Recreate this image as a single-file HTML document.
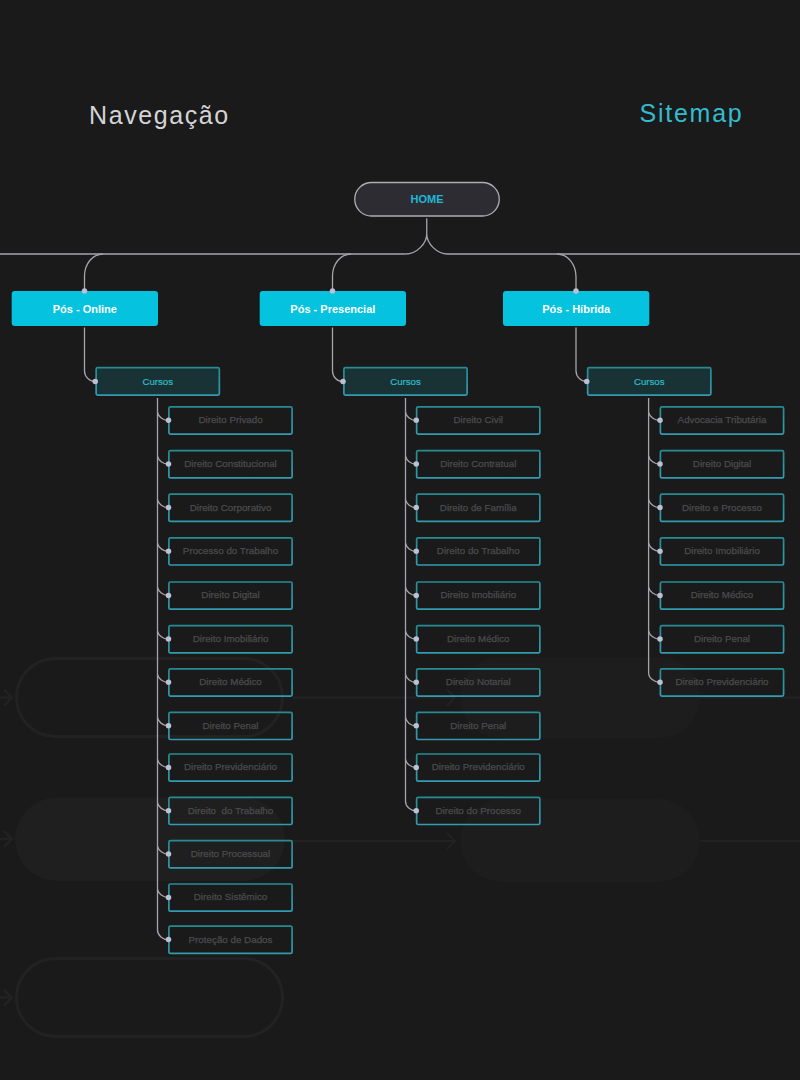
<!DOCTYPE html>
<html><head><meta charset="utf-8">
<style>
*{margin:0;padding:0}
html,body{width:800px;height:1080px;overflow:hidden;background:#1a1a1a}
body{position:relative;font-family:"Liberation Sans",sans-serif}
svg{position:absolute;left:0;top:0;display:block}
text{font-family:"Liberation Sans",sans-serif}
</style></head><body>
<svg width="800" height="1080" viewBox="0 0 800 1080">
<defs>
<linearGradient id="gb" x1="0" y1="0" x2="0" y2="1">
<stop offset="0" stop-color="#278b93"/><stop offset="1" stop-color="#329bb0"/>
</linearGradient>
</defs>
<g>
<rect x="16.5" y="658.5" width="266" height="78" rx="39" fill="none" stroke="#222222" stroke-width="3"/>
<rect x="460" y="657" width="240" height="81" rx="40.5" fill="#1d1d1d"/>
<path d="M0 697.5 H12 M4 689.5 L12 697.5 L4 705.5" fill="none" stroke="#222222" stroke-width="2.5"/>
<path d="M293 697.5 H455 M447 689.5 L455 697.5 L447 705.5" fill="none" stroke="#222222" stroke-width="2"/>
<path d="M700 697.5 H800" fill="none" stroke="#222222" stroke-width="2"/>
<rect x="15" y="797.5" width="270" height="83.5" rx="41.75" fill="#1f1f1f"/>
<rect x="460" y="799" width="240" height="83" rx="41.5" fill="#1d1d1d"/>
<path d="M0 839 H12 M4 831 L12 839 L4 847" fill="none" stroke="#222222" stroke-width="2.5"/>
<path d="M293 841 H455 M447 833 L455 841 L447 849" fill="none" stroke="#222222" stroke-width="2"/>
<path d="M700 841 H800" fill="none" stroke="#222222" stroke-width="2"/>
<rect x="16.5" y="958.5" width="266" height="78" rx="39" fill="none" stroke="#222222" stroke-width="3"/>
<path d="M0 997.5 H12 M4 989.5 L12 997.5 L4 1005.5" fill="none" stroke="#222222" stroke-width="2.5"/>
</g>
<text x="89" y="123.5" font-size="25" letter-spacing="1.6" fill="#d4d4d6">Navegação</text>
<text x="639.5" y="122" font-size="25" letter-spacing="1.75" fill="#33bccf">Sitemap</text>
<rect x="354.75" y="182.5" width="144.5" height="33.5" rx="16.75" fill="#2d2c32" stroke="#aeadb4" stroke-width="1.3"/>
<text x="427" y="203.2" font-size="11" font-weight="bold" text-anchor="middle" fill="#1fb8d8">HOME</text>
<path d="M0 254 H405.5 M448 254 H800" fill="none" stroke="#a6a4ac" stroke-width="1.7"/>
<path d="M405.5 254 C417.2 254, 426.75 243, 426.75 234 V218.2 M426.75 234 C426.75 243, 436.3 254, 448 254" fill="none" stroke="#a6a4ac" stroke-width="1.3"/>
<path d="M103.0 254 C92.5 254, 84.5 264, 84.5 276 V291" fill="none" stroke="#a6a4ac" stroke-width="1.3"/>
<rect x="11.7" y="291" width="146.3" height="35" rx="3" fill="#05c2df"/>
<text x="84.85000000000001" y="312.6" font-size="11" font-weight="bold" text-anchor="middle" fill="#ffffff">Pós - Online</text>
<circle cx="84.5" cy="291" r="2.75" fill="#bdbfd2"/>
<path d="M84.5 327.5 V370.75 A10.75 10.75 0 0 0 95.25 381.5" fill="none" stroke="#a6a4ac" stroke-width="1.3"/>
<rect x="96.15" y="367.65" width="123.2" height="27.45" rx="1.5" fill="#183235" stroke="url(#gb)" stroke-width="1.7"/>
<text x="157.75" y="384.5" font-size="9.6" text-anchor="middle" fill="#2fbcc8" stroke="#2fbcc8" stroke-width="0.2">Cursos</text>
<circle cx="95.25" cy="381.5" r="2.75" fill="#bdbfd2"/>
<rect x="168.9" y="406.9" width="123.2" height="27.2" rx="1.5" fill="none" stroke="url(#gb)" stroke-width="1.7"/>
<text x="230.5" y="423.3" font-size="9.8" text-anchor="middle" fill="#4b4b4d" stroke="#4b4b4d" stroke-width="0.25">Direito Privado</text>
<rect x="168.9" y="450.7" width="123.2" height="27.2" rx="1.5" fill="none" stroke="url(#gb)" stroke-width="1.7"/>
<text x="230.5" y="467.1" font-size="9.8" text-anchor="middle" fill="#4b4b4d" stroke="#4b4b4d" stroke-width="0.25">Direito Constitucional</text>
<rect x="168.9" y="494.2" width="123.2" height="27.2" rx="1.5" fill="none" stroke="url(#gb)" stroke-width="1.7"/>
<text x="230.5" y="510.6" font-size="9.8" text-anchor="middle" fill="#4b4b4d" stroke="#4b4b4d" stroke-width="0.25">Direito Corporativo</text>
<rect x="168.9" y="537.8" width="123.2" height="27.2" rx="1.5" fill="none" stroke="url(#gb)" stroke-width="1.7"/>
<text x="230.5" y="554.1999999999999" font-size="9.8" text-anchor="middle" fill="#4b4b4d" stroke="#4b4b4d" stroke-width="0.25">Processo do Trabalho</text>
<rect x="168.9" y="582.0" width="123.2" height="27.2" rx="1.5" fill="none" stroke="url(#gb)" stroke-width="1.7"/>
<text x="230.5" y="598.4" font-size="9.8" text-anchor="middle" fill="#4b4b4d" stroke="#4b4b4d" stroke-width="0.25">Direito Digital</text>
<rect x="168.9" y="625.6999999999999" width="123.2" height="27.2" rx="1.5" fill="none" stroke="url(#gb)" stroke-width="1.7"/>
<text x="230.5" y="642.0999999999999" font-size="9.8" text-anchor="middle" fill="#4b4b4d" stroke="#4b4b4d" stroke-width="0.25">Direito Imobiliário</text>
<rect x="168.9" y="668.9" width="123.2" height="27.2" rx="1.5" fill="none" stroke="url(#gb)" stroke-width="1.7"/>
<text x="230.5" y="685.3" font-size="9.8" text-anchor="middle" fill="#4b4b4d" stroke="#4b4b4d" stroke-width="0.25">Direito Médico</text>
<rect x="168.9" y="712.3" width="123.2" height="27.2" rx="1.5" fill="none" stroke="url(#gb)" stroke-width="1.7"/>
<text x="230.5" y="728.6999999999999" font-size="9.8" text-anchor="middle" fill="#4b4b4d" stroke="#4b4b4d" stroke-width="0.25">Direito Penal</text>
<rect x="168.9" y="754.0" width="123.2" height="27.2" rx="1.5" fill="none" stroke="url(#gb)" stroke-width="1.7"/>
<text x="230.5" y="770.4" font-size="9.8" text-anchor="middle" fill="#4b4b4d" stroke="#4b4b4d" stroke-width="0.25">Direito Previdenciário</text>
<rect x="168.9" y="797.3" width="123.2" height="27.2" rx="1.5" fill="none" stroke="url(#gb)" stroke-width="1.7"/>
<text x="230.5" y="813.6999999999999" font-size="9.8" text-anchor="middle" fill="#4b4b4d" stroke="#4b4b4d" stroke-width="0.25">Direito&#160; do Trabalho</text>
<rect x="168.9" y="840.6999999999999" width="123.2" height="27.2" rx="1.5" fill="none" stroke="url(#gb)" stroke-width="1.7"/>
<text x="230.5" y="857.0999999999999" font-size="9.8" text-anchor="middle" fill="#4b4b4d" stroke="#4b4b4d" stroke-width="0.25">Direito Processual</text>
<rect x="168.9" y="884.0" width="123.2" height="27.2" rx="1.5" fill="none" stroke="url(#gb)" stroke-width="1.7"/>
<text x="230.5" y="900.4" font-size="9.8" text-anchor="middle" fill="#4b4b4d" stroke="#4b4b4d" stroke-width="0.25">Direito Sistêmico</text>
<rect x="168.9" y="926.1999999999999" width="123.2" height="27.2" rx="1.5" fill="none" stroke="url(#gb)" stroke-width="1.7"/>
<text x="230.5" y="942.5999999999999" font-size="9.8" text-anchor="middle" fill="#4b4b4d" stroke="#4b4b4d" stroke-width="0.25">Proteção de Dados</text>
<path d="M157.5 398 V930.0999999999999 C157.5 935.5999999999999 163 939.5999999999999 168 939.5999999999999" fill="none" stroke="#a6a4ac" stroke-width="1.3"/>
<path d="M157.5 412.3 C158.5 416.8 163 420.3 168 420.3" fill="none" stroke="#a6a4ac" stroke-width="1.3"/>
<path d="M157.5 456.1 C158.5 460.6 163 464.1 168 464.1" fill="none" stroke="#a6a4ac" stroke-width="1.3"/>
<path d="M157.5 499.6 C158.5 504.1 163 507.6 168 507.6" fill="none" stroke="#a6a4ac" stroke-width="1.3"/>
<path d="M157.5 543.1999999999999 C158.5 547.6999999999999 163 551.1999999999999 168 551.1999999999999" fill="none" stroke="#a6a4ac" stroke-width="1.3"/>
<path d="M157.5 587.4 C158.5 591.9 163 595.4 168 595.4" fill="none" stroke="#a6a4ac" stroke-width="1.3"/>
<path d="M157.5 631.0999999999999 C158.5 635.5999999999999 163 639.0999999999999 168 639.0999999999999" fill="none" stroke="#a6a4ac" stroke-width="1.3"/>
<path d="M157.5 674.3 C158.5 678.8 163 682.3 168 682.3" fill="none" stroke="#a6a4ac" stroke-width="1.3"/>
<path d="M157.5 717.6999999999999 C158.5 722.1999999999999 163 725.6999999999999 168 725.6999999999999" fill="none" stroke="#a6a4ac" stroke-width="1.3"/>
<path d="M157.5 759.4 C158.5 763.9 163 767.4 168 767.4" fill="none" stroke="#a6a4ac" stroke-width="1.3"/>
<path d="M157.5 802.6999999999999 C158.5 807.1999999999999 163 810.6999999999999 168 810.6999999999999" fill="none" stroke="#a6a4ac" stroke-width="1.3"/>
<path d="M157.5 846.0999999999999 C158.5 850.5999999999999 163 854.0999999999999 168 854.0999999999999" fill="none" stroke="#a6a4ac" stroke-width="1.3"/>
<path d="M157.5 889.4 C158.5 893.9 163 897.4 168 897.4" fill="none" stroke="#a6a4ac" stroke-width="1.3"/>
<circle cx="168.5" cy="420.3" r="2.75" fill="#bdbfd2"/>
<circle cx="168.5" cy="464.1" r="2.75" fill="#bdbfd2"/>
<circle cx="168.5" cy="507.6" r="2.75" fill="#bdbfd2"/>
<circle cx="168.5" cy="551.1999999999999" r="2.75" fill="#bdbfd2"/>
<circle cx="168.5" cy="595.4" r="2.75" fill="#bdbfd2"/>
<circle cx="168.5" cy="639.0999999999999" r="2.75" fill="#bdbfd2"/>
<circle cx="168.5" cy="682.3" r="2.75" fill="#bdbfd2"/>
<circle cx="168.5" cy="725.6999999999999" r="2.75" fill="#bdbfd2"/>
<circle cx="168.5" cy="767.4" r="2.75" fill="#bdbfd2"/>
<circle cx="168.5" cy="810.6999999999999" r="2.75" fill="#bdbfd2"/>
<circle cx="168.5" cy="854.0999999999999" r="2.75" fill="#bdbfd2"/>
<circle cx="168.5" cy="897.4" r="2.75" fill="#bdbfd2"/>
<circle cx="168.5" cy="939.5999999999999" r="2.75" fill="#bdbfd2"/>
<path d="M351.0 254 C340.5 254, 332.5 264, 332.5 276 V291" fill="none" stroke="#a6a4ac" stroke-width="1.3"/>
<rect x="259.7" y="291" width="146.3" height="35" rx="3" fill="#05c2df"/>
<text x="332.85" y="312.6" font-size="11" font-weight="bold" text-anchor="middle" fill="#ffffff">Pós - Presencial</text>
<circle cx="332.5" cy="291" r="2.75" fill="#bdbfd2"/>
<path d="M332.5 327.5 V371.0 A10.5 10.5 0 0 0 343 381.5" fill="none" stroke="#a6a4ac" stroke-width="1.3"/>
<rect x="343.9" y="367.65" width="123.2" height="27.45" rx="1.5" fill="#183235" stroke="url(#gb)" stroke-width="1.7"/>
<text x="405.5" y="384.5" font-size="9.6" text-anchor="middle" fill="#2fbcc8" stroke="#2fbcc8" stroke-width="0.2">Cursos</text>
<circle cx="343" cy="381.5" r="2.75" fill="#bdbfd2"/>
<rect x="416.65" y="406.9" width="123.2" height="27.2" rx="1.5" fill="none" stroke="url(#gb)" stroke-width="1.7"/>
<text x="478.25" y="423.3" font-size="9.8" text-anchor="middle" fill="#4b4b4d" stroke="#4b4b4d" stroke-width="0.25">Direito Civil</text>
<rect x="416.65" y="450.7" width="123.2" height="27.2" rx="1.5" fill="none" stroke="url(#gb)" stroke-width="1.7"/>
<text x="478.25" y="467.1" font-size="9.8" text-anchor="middle" fill="#4b4b4d" stroke="#4b4b4d" stroke-width="0.25">Direito Contratual</text>
<rect x="416.65" y="494.2" width="123.2" height="27.2" rx="1.5" fill="none" stroke="url(#gb)" stroke-width="1.7"/>
<text x="478.25" y="510.6" font-size="9.8" text-anchor="middle" fill="#4b4b4d" stroke="#4b4b4d" stroke-width="0.25">Direito de Família</text>
<rect x="416.65" y="537.8" width="123.2" height="27.2" rx="1.5" fill="none" stroke="url(#gb)" stroke-width="1.7"/>
<text x="478.25" y="554.1999999999999" font-size="9.8" text-anchor="middle" fill="#4b4b4d" stroke="#4b4b4d" stroke-width="0.25">Direito do Trabalho</text>
<rect x="416.65" y="582.0" width="123.2" height="27.2" rx="1.5" fill="none" stroke="url(#gb)" stroke-width="1.7"/>
<text x="478.25" y="598.4" font-size="9.8" text-anchor="middle" fill="#4b4b4d" stroke="#4b4b4d" stroke-width="0.25">Direito Imobiliário</text>
<rect x="416.65" y="625.6999999999999" width="123.2" height="27.2" rx="1.5" fill="none" stroke="url(#gb)" stroke-width="1.7"/>
<text x="478.25" y="642.0999999999999" font-size="9.8" text-anchor="middle" fill="#4b4b4d" stroke="#4b4b4d" stroke-width="0.25">Direito Médico</text>
<rect x="416.65" y="668.9" width="123.2" height="27.2" rx="1.5" fill="none" stroke="url(#gb)" stroke-width="1.7"/>
<text x="478.25" y="685.3" font-size="9.8" text-anchor="middle" fill="#4b4b4d" stroke="#4b4b4d" stroke-width="0.25">Direito Notarial</text>
<rect x="416.65" y="712.3" width="123.2" height="27.2" rx="1.5" fill="none" stroke="url(#gb)" stroke-width="1.7"/>
<text x="478.25" y="728.6999999999999" font-size="9.8" text-anchor="middle" fill="#4b4b4d" stroke="#4b4b4d" stroke-width="0.25">Direito Penal</text>
<rect x="416.65" y="754.0" width="123.2" height="27.2" rx="1.5" fill="none" stroke="url(#gb)" stroke-width="1.7"/>
<text x="478.25" y="770.4" font-size="9.8" text-anchor="middle" fill="#4b4b4d" stroke="#4b4b4d" stroke-width="0.25">Direito Previdenciário</text>
<rect x="416.65" y="797.3" width="123.2" height="27.2" rx="1.5" fill="none" stroke="url(#gb)" stroke-width="1.7"/>
<text x="478.25" y="813.6999999999999" font-size="9.8" text-anchor="middle" fill="#4b4b4d" stroke="#4b4b4d" stroke-width="0.25">Direito do Processo</text>
<path d="M405.5 398 V801.1999999999999 C405.5 806.6999999999999 410.75 810.6999999999999 415.75 810.6999999999999" fill="none" stroke="#a6a4ac" stroke-width="1.3"/>
<path d="M405.5 412.3 C406.5 416.8 410.75 420.3 415.75 420.3" fill="none" stroke="#a6a4ac" stroke-width="1.3"/>
<path d="M405.5 456.1 C406.5 460.6 410.75 464.1 415.75 464.1" fill="none" stroke="#a6a4ac" stroke-width="1.3"/>
<path d="M405.5 499.6 C406.5 504.1 410.75 507.6 415.75 507.6" fill="none" stroke="#a6a4ac" stroke-width="1.3"/>
<path d="M405.5 543.1999999999999 C406.5 547.6999999999999 410.75 551.1999999999999 415.75 551.1999999999999" fill="none" stroke="#a6a4ac" stroke-width="1.3"/>
<path d="M405.5 587.4 C406.5 591.9 410.75 595.4 415.75 595.4" fill="none" stroke="#a6a4ac" stroke-width="1.3"/>
<path d="M405.5 631.0999999999999 C406.5 635.5999999999999 410.75 639.0999999999999 415.75 639.0999999999999" fill="none" stroke="#a6a4ac" stroke-width="1.3"/>
<path d="M405.5 674.3 C406.5 678.8 410.75 682.3 415.75 682.3" fill="none" stroke="#a6a4ac" stroke-width="1.3"/>
<path d="M405.5 717.6999999999999 C406.5 722.1999999999999 410.75 725.6999999999999 415.75 725.6999999999999" fill="none" stroke="#a6a4ac" stroke-width="1.3"/>
<path d="M405.5 759.4 C406.5 763.9 410.75 767.4 415.75 767.4" fill="none" stroke="#a6a4ac" stroke-width="1.3"/>
<circle cx="416.25" cy="420.3" r="2.75" fill="#bdbfd2"/>
<circle cx="416.25" cy="464.1" r="2.75" fill="#bdbfd2"/>
<circle cx="416.25" cy="507.6" r="2.75" fill="#bdbfd2"/>
<circle cx="416.25" cy="551.1999999999999" r="2.75" fill="#bdbfd2"/>
<circle cx="416.25" cy="595.4" r="2.75" fill="#bdbfd2"/>
<circle cx="416.25" cy="639.0999999999999" r="2.75" fill="#bdbfd2"/>
<circle cx="416.25" cy="682.3" r="2.75" fill="#bdbfd2"/>
<circle cx="416.25" cy="725.6999999999999" r="2.75" fill="#bdbfd2"/>
<circle cx="416.25" cy="767.4" r="2.75" fill="#bdbfd2"/>
<circle cx="416.25" cy="810.6999999999999" r="2.75" fill="#bdbfd2"/>
<path d="M557 254 C567.5 254, 576 264, 576 277 V291" fill="none" stroke="#a6a4ac" stroke-width="1.3"/>
<rect x="503" y="291" width="146.3" height="35" rx="3" fill="#05c2df"/>
<text x="576.15" y="312.6" font-size="11" font-weight="bold" text-anchor="middle" fill="#ffffff">Pós - Híbrida</text>
<circle cx="576" cy="291" r="2.75" fill="#bdbfd2"/>
<path d="M576 327.5 V370.75 A10.75 10.75 0 0 0 586.75 381.5" fill="none" stroke="#a6a4ac" stroke-width="1.3"/>
<rect x="587.65" y="367.65" width="123.2" height="27.45" rx="1.5" fill="#183235" stroke="url(#gb)" stroke-width="1.7"/>
<text x="649.25" y="384.5" font-size="9.6" text-anchor="middle" fill="#2fbcc8" stroke="#2fbcc8" stroke-width="0.2">Cursos</text>
<circle cx="586.75" cy="381.5" r="2.75" fill="#bdbfd2"/>
<rect x="660.4" y="406.9" width="123.2" height="27.2" rx="1.5" fill="none" stroke="url(#gb)" stroke-width="1.7"/>
<text x="722.0" y="423.3" font-size="9.8" text-anchor="middle" fill="#4b4b4d" stroke="#4b4b4d" stroke-width="0.25">Advocacia Tributária</text>
<rect x="660.4" y="450.7" width="123.2" height="27.2" rx="1.5" fill="none" stroke="url(#gb)" stroke-width="1.7"/>
<text x="722.0" y="467.1" font-size="9.8" text-anchor="middle" fill="#4b4b4d" stroke="#4b4b4d" stroke-width="0.25">Direito Digital</text>
<rect x="660.4" y="494.2" width="123.2" height="27.2" rx="1.5" fill="none" stroke="url(#gb)" stroke-width="1.7"/>
<text x="722.0" y="510.6" font-size="9.8" text-anchor="middle" fill="#4b4b4d" stroke="#4b4b4d" stroke-width="0.25">Direito e Processo</text>
<rect x="660.4" y="537.8" width="123.2" height="27.2" rx="1.5" fill="none" stroke="url(#gb)" stroke-width="1.7"/>
<text x="722.0" y="554.1999999999999" font-size="9.8" text-anchor="middle" fill="#4b4b4d" stroke="#4b4b4d" stroke-width="0.25">Direito Imobiliário</text>
<rect x="660.4" y="582.0" width="123.2" height="27.2" rx="1.5" fill="none" stroke="url(#gb)" stroke-width="1.7"/>
<text x="722.0" y="598.4" font-size="9.8" text-anchor="middle" fill="#4b4b4d" stroke="#4b4b4d" stroke-width="0.25">Direito Médico</text>
<rect x="660.4" y="625.6999999999999" width="123.2" height="27.2" rx="1.5" fill="none" stroke="url(#gb)" stroke-width="1.7"/>
<text x="722.0" y="642.0999999999999" font-size="9.8" text-anchor="middle" fill="#4b4b4d" stroke="#4b4b4d" stroke-width="0.25">Direito Penal</text>
<rect x="660.4" y="668.9" width="123.2" height="27.2" rx="1.5" fill="none" stroke="url(#gb)" stroke-width="1.7"/>
<text x="722.0" y="685.3" font-size="9.8" text-anchor="middle" fill="#4b4b4d" stroke="#4b4b4d" stroke-width="0.25">Direito Previdenciário</text>
<path d="M648.6 398 V672.8 C648.6 678.3 654.5 682.3 659.5 682.3" fill="none" stroke="#a6a4ac" stroke-width="1.3"/>
<path d="M648.6 412.3 C649.6 416.8 654.5 420.3 659.5 420.3" fill="none" stroke="#a6a4ac" stroke-width="1.3"/>
<path d="M648.6 456.1 C649.6 460.6 654.5 464.1 659.5 464.1" fill="none" stroke="#a6a4ac" stroke-width="1.3"/>
<path d="M648.6 499.6 C649.6 504.1 654.5 507.6 659.5 507.6" fill="none" stroke="#a6a4ac" stroke-width="1.3"/>
<path d="M648.6 543.1999999999999 C649.6 547.6999999999999 654.5 551.1999999999999 659.5 551.1999999999999" fill="none" stroke="#a6a4ac" stroke-width="1.3"/>
<path d="M648.6 587.4 C649.6 591.9 654.5 595.4 659.5 595.4" fill="none" stroke="#a6a4ac" stroke-width="1.3"/>
<path d="M648.6 631.0999999999999 C649.6 635.5999999999999 654.5 639.0999999999999 659.5 639.0999999999999" fill="none" stroke="#a6a4ac" stroke-width="1.3"/>
<circle cx="660.0" cy="420.3" r="2.75" fill="#bdbfd2"/>
<circle cx="660.0" cy="464.1" r="2.75" fill="#bdbfd2"/>
<circle cx="660.0" cy="507.6" r="2.75" fill="#bdbfd2"/>
<circle cx="660.0" cy="551.1999999999999" r="2.75" fill="#bdbfd2"/>
<circle cx="660.0" cy="595.4" r="2.75" fill="#bdbfd2"/>
<circle cx="660.0" cy="639.0999999999999" r="2.75" fill="#bdbfd2"/>
<circle cx="660.0" cy="682.3" r="2.75" fill="#bdbfd2"/>
</svg>
</body></html>
